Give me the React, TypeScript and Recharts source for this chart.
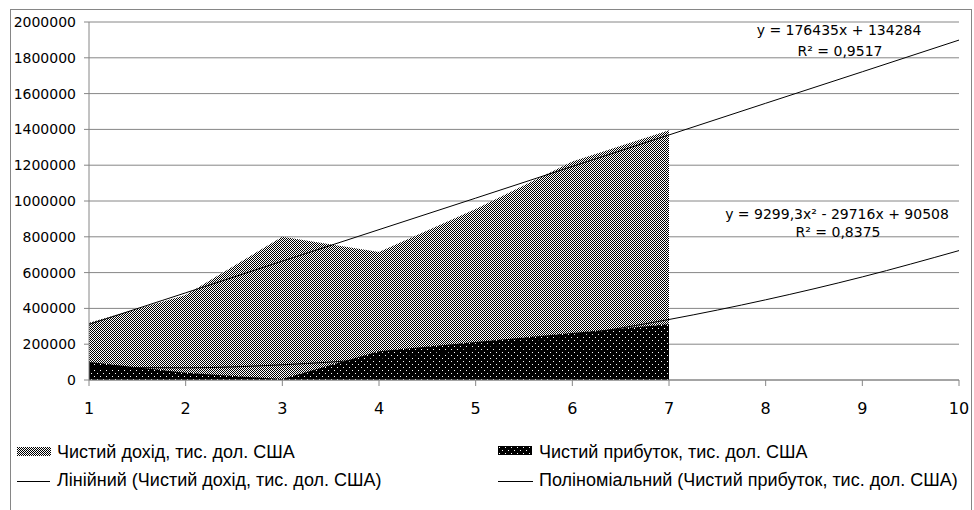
import { ComposedChart, Area, Line, XAxis, YAxis, CartesianGrid } from "recharts";

const categories = [1, 2, 3, 4, 5, 6, 7, 8, 9, 10];
const revenue = [320000, 475000, 800000, 715000, 955000, 1220000, 1395000];
const profit = [100000, 40000, 5000, 160000, 212000, 262000, 312000];
const linearTrend = [311000, 487000, 664000, 840000, 1016000, 1193000, 1369000, 1546000, 1722000, 1899000];
const polyTrend = [70000, 68000, 85000, 120000, 174000, 247000, 338000, 448000, 576000, 723000];
const yTicks = [0, 200000, 400000, 600000, 800000, 1000000, 1200000, 1400000, 1600000, 1800000, 2000000];

const revenueLabel = "Чистий дохід, тис. дол. США";
const profitLabel = "Чистий прибуток, тис. дол. США";
const linearLabel = "Лінійний (Чистий дохід, тис. дол. США)";
const polyLabel = "Поліноміальний (Чистий прибуток, тис. дол. США)";

const rows = categories.map((x, i) => ({
  x,
  revenue: revenue[i],
  profit: profit[i],
  linear: linearTrend[i],
  poly: polyTrend[i],
}));

const GRID = "#868686";
const eqFont = "'DejaVu Sans', sans-serif";
const legendFont = "'Liberation Sans', Arial, sans-serif";

function Swatch({ kind }: { kind: "rev" | "prof" }) {
  return (
    <svg width={34} height={9} style={{ display: "block" }}>
      <defs>
        <pattern id={`sw-${kind}`} width={kind === "rev" ? 2 : 6} height={kind === "rev" ? 2 : 6} patternUnits="userSpaceOnUse">
          {kind === "rev" ? (
            <>
              <rect width={2} height={2} fill="#fff" />
              <rect width={1} height={1} fill="#000" />
              <rect x={1} y={1} width={1} height={1} fill="#000" />
            </>
          ) : (
            <>
              <rect width={6} height={6} fill="#000" />
              <rect x={1} y={1} width={1} height={1} fill="#fff" />
              <rect x={4} y={4} width={1} height={1} fill="#fff" />
            </>
          )}
        </pattern>
      </defs>
      <rect width={34} height={9} fill={`url(#sw-${kind})`} />
    </svg>
  );
}

const eqStyle = (cx: number, top: number): React.CSSProperties => ({
  position: "absolute",
  left: cx - 150,
  top,
  width: 300,
  textAlign: "center",
  fontFamily: eqFont,
  fontSize: 14,
  lineHeight: "16px",
  color: "#000",
  whiteSpace: "nowrap",
});

const legendText = (left: number, top: number): React.CSSProperties => ({
  position: "absolute",
  left,
  top,
  fontFamily: legendFont,
  fontSize: 18,
  lineHeight: "20px",
  color: "#000",
  whiteSpace: "nowrap",
});

export default function App() {
  return (
    <div style={{ position: "fixed", left: 0, top: 0, width: 974, height: 510, background: "#fff", overflow: "hidden" }}>
      <div style={{ position: "absolute", left: 10, top: 9, width: 960, height: 520, border: `1px solid ${GRID}` }} />
      <div style={{ position: "absolute", left: 0, top: 0 }}>
        <ComposedChart width={974} height={510} data={rows} margin={{ top: 22, right: 15, bottom: 100, left: 0 }}>
          <defs>
            <pattern id="revPattern" width={2} height={2} patternUnits="userSpaceOnUse">
              <rect width={2} height={2} fill="#fff" />
              <rect width={1} height={1} fill="#000" />
              <rect x={1} y={1} width={1} height={1} fill="#000" />
            </pattern>
            <pattern id="profPattern" width={6} height={6} patternUnits="userSpaceOnUse">
              <rect width={6} height={6} fill="#000" />
              <rect x={1} y={1} width={1} height={1} fill="#fff" />
              <rect x={4} y={4} width={1} height={1} fill="#fff" />
            </pattern>
          </defs>
          <CartesianGrid vertical={false} stroke={GRID} strokeWidth={1} />
          <XAxis
            dataKey="x"
            type="number"
            domain={[1, 10]}
            ticks={categories}
            interval={0}
            tickSize={6}
            tickMargin={17}
            stroke={GRID}
            tick={{ fill: "#000", fontSize: 16, fontFamily: eqFont }}
          />
          <YAxis
            type="number"
            domain={[0, 2000000]}
            ticks={yTicks}
            interval={0}
            width={89}
            tickSize={5}
            tickMargin={8}
            stroke={GRID}
            tick={{ fill: "#000", fontSize: 14, fontFamily: eqFont }}
          />
          <Area
            type="linear"
            dataKey="revenue"
            name={revenueLabel}
            stroke="none"
            fill="url(#revPattern)"
            fillOpacity={1}
            dot={false}
            activeDot={false}
            isAnimationActive={false}
          />
          <Area
            type="linear"
            dataKey="profit"
            name={profitLabel}
            stroke="none"
            fill="url(#profPattern)"
            fillOpacity={1}
            dot={false}
            activeDot={false}
            isAnimationActive={false}
          />
          <Line
            type="linear"
            dataKey="linear"
            name={linearLabel}
            stroke="#000"
            strokeWidth={1}
            dot={false}
            activeDot={false}
            isAnimationActive={false}
          />
          <Line
            type="monotone"
            dataKey="poly"
            name={polyLabel}
            stroke="#000"
            strokeWidth={1}
            dot={false}
            activeDot={false}
            isAnimationActive={false}
          />
        </ComposedChart>
      </div>

      {/* trendline equations */}
      <div style={eqStyle(839, 22)}>y = 176435x + 134284</div>
      <div style={eqStyle(840, 43)}>R² = 0,9517</div>
      <div style={eqStyle(837, 206)}>y = 9299,3x² - 29716x + 90508</div>
      <div style={eqStyle(838, 224)}>R² = 0,8375</div>

      {/* legend */}
      <div style={{ position: "absolute", left: 17, top: 447 }}>
        <Swatch kind="rev" />
      </div>
      <div style={legendText(57, 442)}>{revenueLabel}</div>
      <div style={{ position: "absolute", left: 498, top: 446 }}>
        <Swatch kind="prof" />
      </div>
      <div style={legendText(539, 442)}>{profitLabel}</div>

      <div style={{ position: "absolute", left: 17, top: 481, width: 33, height: 1, background: "#000" }} />
      <div style={legendText(57, 470)}>{linearLabel}</div>
      <div style={{ position: "absolute", left: 498, top: 481, width: 35, height: 1, background: "#000" }} />
      <div style={legendText(539, 470)}>{polyLabel}</div>
    </div>
  );
}
